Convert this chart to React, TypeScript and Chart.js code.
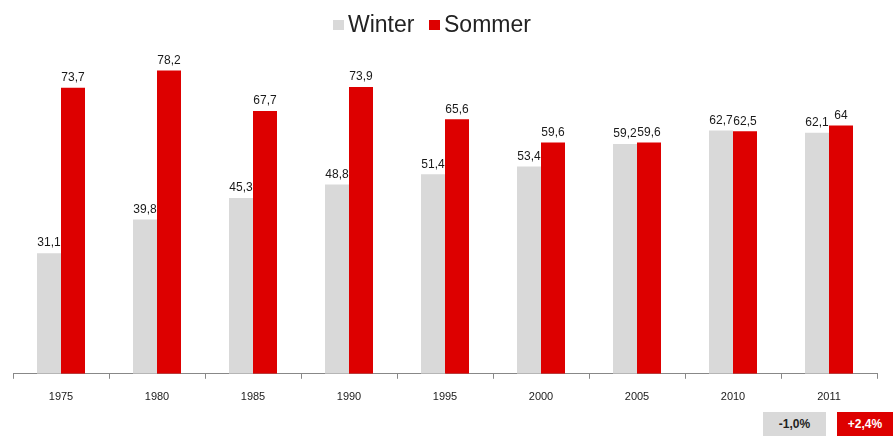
import React, { useEffect, useRef } from "react";
import { Chart, registerables } from "chart.js";

Chart.register(...registerables);

const categories = ["1975", "1980", "1985", "1990", "1995", "2000", "2005", "2010", "2011"];
const winterValues = [31.1, 39.8, 45.3, 48.8, 51.4, 53.4, 59.2, 62.7, 62.1];
const sommerValues = [73.7, 78.2, 67.7, 73.9, 65.6, 59.6, 59.6, 62.5, 64];
const seriesNames = ["Winter", "Sommer"];
const changeLabels = ["-1,0%", "+2,4%"];

const GRAY = "#d9d9d9";
const RED = "#dd0000";
const FONT = "'Liberation Sans', Arial, sans-serif";

const fmt = (v: number) => String(v).replace(".", ",");

const labelPlugin = {
  id: "valueLabels",
  afterDatasetsDraw(chart: any) {
    const ctx = chart.ctx;
    ctx.save();
    ctx.font = `12px ${FONT}`;
    ctx.fillStyle = "#1a1a1a";
    ctx.textAlign = "center";
    ctx.textBaseline = "bottom";
    chart.data.datasets.forEach((ds: any, di: number) => {
      const meta = chart.getDatasetMeta(di);
      meta.data.forEach((el: any, i: number) => {
        ctx.fillText(fmt(ds.data[i]), el.x, el.y - 4);
      });
    });
    ctx.restore();
  },
};

export default function App() {
  const ref = useRef<HTMLCanvasElement | null>(null);
  useEffect(() => {
    if (!ref.current) return;
    const chart = new Chart(ref.current, {
      type: "bar",
      data: {
        labels: categories,
        datasets: [
          { label: seriesNames[0], data: winterValues, backgroundColor: GRAY, categoryPercentage: 0.5, barPercentage: 1 },
          { label: seriesNames[1], data: sommerValues, backgroundColor: RED, categoryPercentage: 0.5, barPercentage: 1 },
        ],
      },
      options: {
        animation: false,
        responsive: false,
        maintainAspectRatio: false,
        layout: { padding: { left: 13, right: 16, top: 44, bottom: 20 } },
        plugins: {
          legend: { display: false },
          tooltip: { enabled: false },
        },
        scales: {
          x: {
            grid: { display: true, drawOnChartArea: false, drawTicks: true, tickLength: 5, color: "#888", offset: true },
            border: { display: true, color: "#888", width: 1 },
            ticks: { color: "#1a1a1a", font: { size: 11, family: FONT }, padding: 12, maxRotation: 0 },
          },
          y: { display: false, min: 0, max: 85 },
        },
      },
      plugins: [labelPlugin],
    });
    return () => chart.destroy();
  }, []);
  const legendItem = (name: string, color: string, left: number) => (
    <div style={{ position: "absolute", left, top: 12, height: 24, display: "flex", alignItems: "center" }}>
      <span style={{ display: "inline-block", width: 11, height: 10, background: color, marginRight: 4, marginTop: 2 }} />
      <span style={{ font: `23px ${FONT}`, color: "#222", lineHeight: "24px" }}>{name}</span>
    </div>
  );
  return (
    <div style={{ position: "fixed", left: 0, top: 0, width: 893, height: 436, background: "#fff" }}>
      <canvas ref={ref} width={893} height={436} style={{ width: 893, height: 436, display: "block" }} />
      {legendItem(seriesNames[0], GRAY, 333)}
      {legendItem(seriesNames[1], RED, 429)}
      <div
        style={{
          position: "absolute", left: 763, top: 412, width: 63, height: 24, background: GRAY,
          color: "#222", font: `bold 12px ${FONT}`, display: "flex", alignItems: "center", justifyContent: "center",
        }}
      >
        {changeLabels[0]}
      </div>
      <div
        style={{
          position: "absolute", left: 837, top: 412, width: 56, height: 24, background: RED,
          color: "#fff", font: `bold 12px ${FONT}`, display: "flex", alignItems: "center", justifyContent: "center",
        }}
      >
        {changeLabels[1]}
      </div>
    </div>
  );
}
